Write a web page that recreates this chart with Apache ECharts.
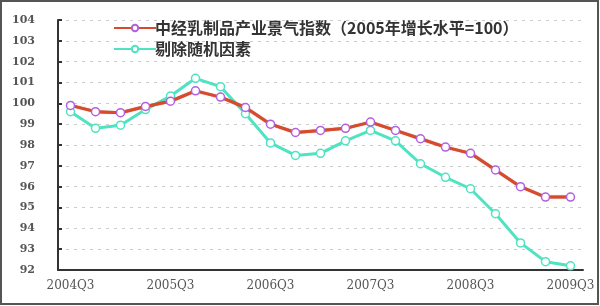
<!DOCTYPE html>
<html><head><meta charset="utf-8">
<script src="https://cdn.jsdelivr.net/npm/echarts@6/dist/echarts.min.js"></script>
<style>html,body{margin:0;padding:0;background:#fff}#c{width:600px;height:306px}</style>
</head><body><div id="c"></div>
<script>
var categories = ['2004Q3','2004Q4','2005Q1','2005Q2','2005Q3','2005Q4','2006Q1','2006Q2','2006Q3','2006Q4','2007Q1','2007Q2','2007Q3','2007Q4','2008Q1','2008Q2','2008Q3','2008Q4','2009Q1','2009Q2','2009Q3'];
var indexValues = [99.9,99.6,99.55,99.85,100.1,100.6,100.3,99.8,99.0,98.6,98.7,98.8,99.1,98.7,98.3,97.9,97.6,96.8,96.0,95.5,95.5];
var adjustedValues = [99.6,98.8,98.95,99.7,100.35,101.2,100.8,99.5,98.1,97.5,97.6,98.2,98.7,98.2,97.1,96.45,95.9,94.7,93.3,92.4,92.2];
var seriesNames = ['中经乳制品产业景气指数（2005年增长水平=100）','剔除随机因素'];
var yMin = 92, yMax = 104, yStep = 1;

var chart = echarts.init(document.getElementById('c'));
chart.setOption({
  animation: false,
  backgroundColor: '#fff',
  graphic: [{type:'rect', shape:{x:1,y:1,width:597,height:303}, style:{fill:'none', stroke:'#555', lineWidth:2}, z:100}],
  grid: {left:58, right:17, top:20, bottom:36},
  legend: {
    orient:'vertical', left:108, top:15, itemWidth:42, itemHeight:8, itemGap:5,
    textStyle:{fontFamily:'Noto Sans CJK SC', fontSize:16, fontWeight:'bold', color:'#333', padding:[0,0,0,-6]},
    data: seriesNames
  },
  xAxis: {
    type:'category', data:categories, boundaryGap:true,
    axisLine:{lineStyle:{color:'#333', width:2}},
    axisTick:{inside:true, length:5, interval:0, lineStyle:{color:'#333', width:2}},
    axisLabel:{interval:3, fontFamily:'DejaVu Serif', fontSize:12, color:'#555', margin:10},
    splitLine:{show:false}
  },
  yAxis: {
    type:'value', min:yMin, max:yMax, interval:yStep,
    axisLine:{show:true, lineStyle:{color:'#333', width:2}},
    axisTick:{show:true, inside:true, length:4, lineStyle:{color:'#333', width:2}},
    axisLabel:{fontFamily:'DejaVu Serif', fontSize:11, fontWeight:'bold', color:'#555', margin:23},
    splitLine:{lineStyle:{color:'#ccc', type:[3,5], width:1}}
  },
  series: [
    {name:seriesNames[0], type:'line', data:indexValues, symbol:'circle', symbolSize:8,
     lineStyle:{color:'#d84a2b', width:3, shadowColor:'rgba(120,30,10,0.6)', shadowBlur:1},
     itemStyle:{color:'#fff', borderColor:'#b060e0', borderWidth:1.5}, z:3},
    {name:seriesNames[1], type:'line', data:adjustedValues, symbol:'circle', symbolSize:8,
     lineStyle:{color:'#4fe3c1', width:3},
     itemStyle:{color:'#fff', borderColor:'#4fe3c1', borderWidth:1.5}, z:2}
  ]
});
</script></body></html>
